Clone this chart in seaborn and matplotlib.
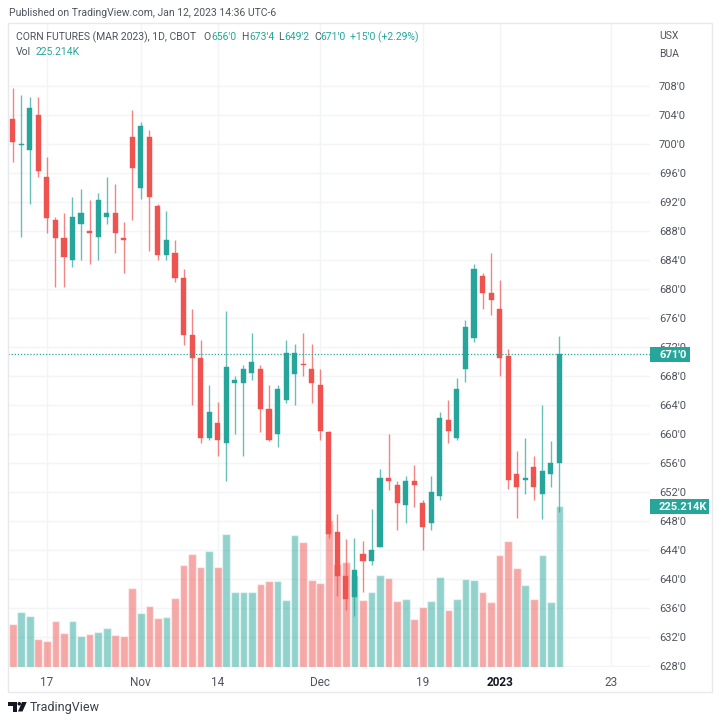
import matplotlib
matplotlib.use('Agg')
import matplotlib.pyplot as plt
import pandas as pd
import seaborn as sns
from matplotlib.patches import Circle, Polygon, Rectangle

# daily candles, oct 11 2022 - jan 12 2023 (prices in cents)
opens = [703.5, 699.9, 699.25, 704, 695.5, 689.5, 687, 684, 689, 688, 687.25, 690, 690.5, 687,
         701, 694, 701, 691.5, 684.75, 685, 681.5, 673.75, 670.5, 659.5, 661.5, 658.75, 667, 667,
         668.5, 669, 663.5, 660, 664.75, 668.25, 669.75, 669, 666.75, 660.25, 646.5, 640.5, 637.5,
         643.5, 642.5, 644.5, 654, 653, 650.25, 653.5, 650.5, 647.75, 651.5, 662, 659.5, 669,
         673.25, 681.75, 679.5, 677.25, 670.75, 654.5, 653.75, 655.5, 651.75, 654.5, 656]
highs = [707.75, 706.75, 706.5, 706.5, 698.25, 690, 690.5, 692.75, 693.75, 692.25, 693.25, 695.5,
         694.5, 689.25, 704.75, 703, 702, 691.75, 690.75, 686.75, 682.75, 677.25, 673, 666.75,
         664.5, 677, 668, 669.5, 674, 669.5, 666.75, 666.75, 673, 672.5, 674, 672.5, 669, 660.5,
         649, 645.5, 645.75, 645.25, 649.75, 655.25, 660, 653.5, 654.25, 655.75, 651, 654.25, 663,
         664.75, 667.75, 675.75, 683.5, 682.25, 685, 681.25, 671.75, 657.75, 659.5, 657, 664, 659,
         673.5]
lows = [697.5, 687.25, 691.75, 695.5, 687.75, 680.25, 680.25, 683, 684, 683.5, 684, 689, 685,
        682.25, 689.5, 692.5, 685.25, 684, 684, 681, 672.25, 664, 658.75, 659.25, 657, 653.5, 660,
        657, 667.5, 660.25, 659, 658.25, 664.25, 664, 668, 664.25, 659.25, 645.75, 637.75, 635.75,
        635, 638.25, 642, 644.5, 652.25, 646.75, 647.75, 650, 644, 646.75, 651, 658.75, 659.25,
        667.25, 672.75, 677.25, 676.5, 668, 652.5, 648.5, 651.75, 651, 648.25, 652.75, 649.25]
closes = [700.25, 700, 705, 696.25, 689.75, 687, 684.5, 690, 690.5, 687.75, 692.25, 690.5, 687.75,
          686.75, 696.75, 702.5, 692.75, 684.75, 686.75, 681.5, 673.75, 670.5, 659.5, 663, 659.25,
          669.25, 667.5, 669, 670, 663.5, 659.25, 666.25, 671.25, 671.25, 669.5, 667, 660.5, 646.25,
          640.5, 637.25, 641.25, 642.5, 644, 654, 653.5, 650.5, 653.5, 653, 647.25, 652, 662.25,
          660.5, 666.25, 674.75, 682.75, 679.5, 678.5, 670.5, 653.75, 652.75, 654, 652.75, 655,
          656, 671]
volumes = [59.8, 76.6, 71, 38.8, 36, 63.5, 46.7, 63.5, 43, 45.8, 48, 54.7, 44.4, 43.4, 110.7, 75.7,
           85.5, 67.7, 69, 96.2, 142.5, 158, 139.2, 161.6, 139.2, 186, 104, 104, 104, 115.4, 119.6,
           119.6, 93.4, 184.5, 174.7, 121.5, 117.7, 205.6, 143.9, 146.2, 128.5, 93.4, 105, 128.5,
           123.8, 92, 94.4, 66.3, 83.2, 92, 126, 79.4, 94.4, 122.9, 121.5, 105, 90.6, 156, 175.7,
           137.8, 114, 94.4, 157, 90.6, 225.214]

price_ticks = [628, 632, 636, 640, 644, 648, 652, 656, 660, 664, 668, 672, 676, 680, 684, 688,
               692, 696, 700, 704, 708]
date_ticks = [4, 15, 24, 36, 48, 57, 70]
date_labels = ['17', 'Nov', '14', 'Dec', '19', '2023', '23']

UP = '#26a69a'
DOWN = '#ef5350'
TEXT = '#50535e'
GRID = '#f3f4f7'
BORDER = '#e8e9ef'

W, H = 720, 723

sns.set_theme(style='white')
plt.rcParams['font.family'] = ['Roboto', 'DejaVu Sans']

df = pd.DataFrame({'i': range(len(opens)), 'open': opens, 'high': highs, 'low': lows,
                   'close': closes, 'vol': volumes})
df['dir'] = ['up' if c >= o else 'down' for o, c in zip(df['open'], df['close'])]
df['bot'] = df[['open', 'close']].min(axis=1)
df['body'] = (df['close'] - df['open']).abs()


def px_rect(left, top, right, bottom):
    return [left / W, 1 - bottom / H, (right - left) / W, (bottom - top) / H]


def label(x, y, s, color=TEXT, size=7.5, **kw):
    fig.text(x / W, 1 - y / H, s, color=color, fontsize=size, va='center', **kw)


fig = plt.figure(figsize=(W / 100, H / 100), dpi=100)
rect = px_rect(8, 23, 650, 666.7)
ax = fig.add_axes(rect)
ax_vol = fig.add_axes(rect)
ax_price = fig.add_axes(rect)

# volume pane sits under the candles
sns.barplot(data=df, x='i', y='vol', hue='dir', palette={'up': UP, 'down': DOWN}, native_scale=True,
            dodge=False, legend=False, saturation=1, alpha=0.5, width=0.9, errorbar=None, ax=ax_vol)
ax_vol.set_ylim(0, 902)

for name, col in [('up', UP), ('down', DOWN)]:
    sub = df[df['dir'] == name]
    ax_price.vlines(sub['i'], sub['low'], sub['high'], color=col, lw=1, alpha=0.7)
    sns.barplot(data=sub, x='i', y='body', bottom=sub['bot'].values, native_scale=True, color=col,
                saturation=1, width=0.6, errorbar=None, ax=ax_price, edgecolor=col, linewidth=0.3)
ax_price.axhline(closes[-1], color=UP, lw=0.9, ls=(0, (1, 1.5)))

for a in [ax, ax_vol, ax_price]:
    a.set_xlim(-0.55, 74.6)
ax.set_ylim(627.95, 716.7)
ax_price.set_ylim(627.95, 716.7)
ax_vol.axis('off')
ax_price.axis('off')

ax.set_yticks(price_ticks)
ax.set_yticklabels([f"{t}'0" for t in price_ticks], color=TEXT, fontsize=8)
ax.yaxis.tick_right()
ax.set_xticks(date_ticks)
ax.set_xticklabels(date_labels, color=TEXT, fontsize=8.5)
ax.get_xticklabels()[5].set_fontweight('bold')
ax.get_xticklabels()[5].set_color('#131722')
ax.tick_params(length=0, axis='y', pad=6.5)
ax.tick_params(length=0, axis='x', pad=7)
ax.grid(True, color=GRID, lw=1)
sns.despine(ax=ax, left=True, right=True, top=True, bottom=True)

# outer frame of the widget
fig.add_artist(Rectangle((8 / W, 1 - 692 / H), 703.5 / W, 669 / H, fill=False, ec=BORDER, lw=1,
                         transform=fig.transFigure))

# header
label(9, 13, 'Published on TradingView.com, Jan 12, 2023 14:36 UTC-6')
label(16, 37, 'CORN FUTURES (MAR 2023), 1D, CBOT')
for x, s, col in [(203, 'O', TEXT), (211, "656'0", UP), (241, 'H', TEXT), (249, "673'4", UP),
                  (278, 'L', TEXT), (284, "649'2", UP), (314, 'C', TEXT), (320, "671'0", UP),
                  (350, "+15'0 (+2.29%)", UP)]:
    label(x, 37, s, col)
label(16, 52, 'Vol')
label(36, 52, '225.214K', UP)
label(659, 36, 'USX')
label(659, 54, 'BUA')

# last value tags on the price axis
fig.add_artist(Rectangle((650 / W, 1 - 362 / H), 40 / W, 15 / H, fc=UP, ec='none',
                         transform=fig.transFigure))
label(659, 354.5, "671'0", 'white', size=8, fontweight='bold')
fig.add_artist(Rectangle((650 / W, 1 - 513.5 / H), 59 / W, 14.5 / H, fc=UP, ec='none',
                         transform=fig.transFigure))
label(659, 506.5, '225.214K', 'white', size=8, fontweight='bold')

# footer logo
LOGO = '#131722'
for shape in [Polygon([(8.3 / W, 1 - 702 / H), (17 / W, 1 - 702 / H), (17 / W, 1 - 711.5 / H),
                       (13 / W, 1 - 711.5 / H), (13 / W, 1 - 705.5 / H), (8.3 / W, 1 - 705.5 / H)],
                      fc=LOGO, ec='none', transform=fig.transFigure),
              Polygon([(22 / W, 1 - 702 / H), (26.7 / W, 1 - 702 / H), (22.5 / W, 1 - 711.5 / H),
                       (18 / W, 1 - 711.5 / H)], fc=LOGO, ec='none', transform=fig.transFigure),
              Circle((19.3 / W, 1 - 703.8 / H), 1.8 / W, fc=LOGO, ec='none', transform=fig.transFigure)]:
    fig.add_artist(shape)
label(30, 707.5, 'TradingView', '#3a3e4a', size=9)

fig.savefig('out.png', dpi=100, facecolor='white')
